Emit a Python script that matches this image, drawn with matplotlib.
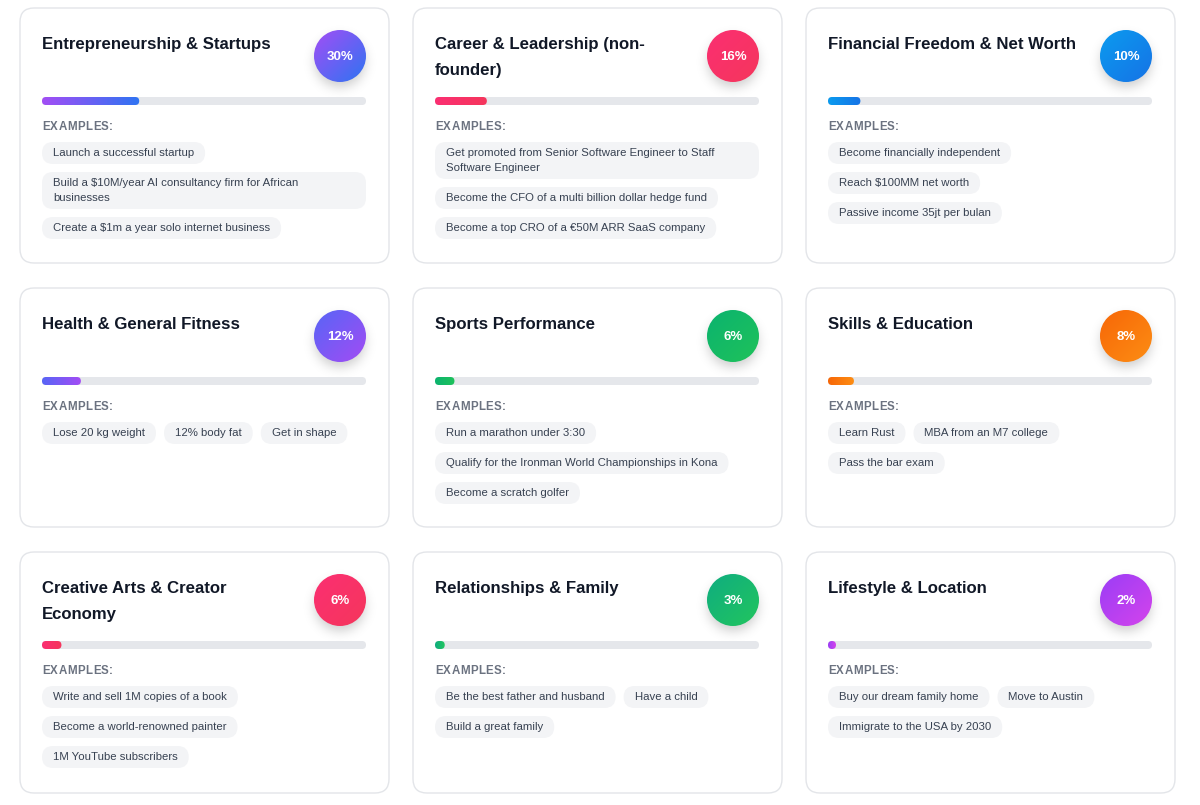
import numpy as np
import matplotlib
matplotlib.use("Agg")
import matplotlib.pyplot as plt
from matplotlib.patches import FancyBboxPatch, Circle
from matplotlib.colors import to_rgb

plt.rcParams['font.family'] = ['Liberation Sans', 'DejaVu Sans']

# --- Data ---
titles = [
    "Entrepreneurship & Startups", "Career & Leadership (non-\nfounder)", "Financial Freedom & Net Worth",
    "Health & General Fitness", "Sports Performance", "Skills & Education",
    "Creative Arts & Creator\nEconomy", "Relationships & Family", "Lifestyle & Location",
]
pcts = [30, 16, 10, 12, 6, 8, 6, 3, 2]
examples_ent = ["Launch a successful startup",
                "Build a $10M/year AI consultancy firm for African\nbusinesses",
                "Create a $1m a year solo internet business"]
examples_career = ["Get promoted from Senior Software Engineer to Staff\nSoftware Engineer",
                   "Become the CFO of a multi billion dollar hedge fund",
                   "Become a top CRO of a €50M ARR SaaS company"]
examples_fin = ["Become financially independent", "Reach $100MM net worth", "Passive income 35jt per bulan"]
examples_health = ["Lose 20 kg weight", "12% body fat", "Get in shape"]
examples_sports = ["Run a marathon under 3:30", "Qualify for the Ironman World Championships in Kona",
                   "Become a scratch golfer"]
examples_skills = ["Learn Rust", "MBA from an M7 college", "Pass the bar exam"]
examples_creative = ["Write and sell 1M copies of a book", "Become a world-renowned painter",
                     "1M YouTube subscribers"]
examples_family = ["Be the best father and husband", "Have a child", "Build a great family"]
examples_life = ["Buy our dream family home", "Move to Austin", "Immigrate to the USA by 2030"]
examples = [examples_ent, examples_career, examples_fin, examples_health, examples_sports,
            examples_skills, examples_creative, examples_family, examples_life]

# gradient pairs (start, end)
grad_start = ['#a24ef5', '#fb2f72', '#0b9bef', '#5865f6', '#0bb36f', '#f76707', '#fb2f72', '#0fad80', '#9b3df6']
grad_end = ['#2f74f2', '#f5365c', '#1673e6', '#a24cf4', '#1fc25a', '#fd8d14', '#f5365c', '#22c55e', '#d444ec']

# --- Layout (pixels) ---
W, H = 1200, 805
col_x = [20, 413, 806]
card_w = 369
row_y = [8, 288, 552]
row_h = [255, 239, 241]
PAD = 22
TRACK_W = 324

TITLE_C = '#111827'
LABEL_C = '#6b7280'
CHIP_BG = '#f3f4f6'
CHIP_TXT = '#374151'
TRACK_C = '#e5e7eb'


def gradient(ax, patch, ext, c1, c2, diag=False, z=3):
    x0, x1, y0, y1 = ext
    n = 64
    xs = np.linspace(0, 1, n)
    if diag:
        X, Y = np.meshgrid(xs, xs)
        t = (X + Y) / 2
    else:
        t = np.tile(xs, (n, 1))
    a, b = np.array(to_rgb(c1)), np.array(to_rgb(c2))
    img = a[None, None, :] * (1 - t[..., None]) + b[None, None, :] * t[..., None]
    im = ax.imshow(img, extent=(x0, x1, y1, y0), origin='upper', interpolation='bilinear',
                   zorder=z, aspect='auto')
    im.set_clip_path(patch)


def shadow(ax, cx, cy, r):
    n = 80
    ext = r + 22
    xs = np.linspace(-ext, ext, n)
    X, Y = np.meshgrid(xs, xs)
    d = np.sqrt(X ** 2 + (Y - 6) ** 2)
    alpha = 0.16 * np.exp(-np.clip(d - r + 8, 0, None) ** 2 / (2 * 7.0 ** 2))
    img = np.zeros((n, n, 4))
    img[..., 3] = alpha
    ax.imshow(img, extent=(cx - ext, cx + ext, cy + ext, cy - ext), origin='upper',
              interpolation='bilinear', zorder=2, aspect='auto')


def spaced_text(ax, x, y, s, spacing, **kw):
    # draw text one character at a time to mimic letter-spacing
    for ch in s:
        t = ax.text(x, y, ch, **kw)
        x += t.get_window_extent(renderer).width + spacing


fig = plt.figure(figsize=(12, 8.05), dpi=100)
ax = fig.add_axes([0, 0, 1, 1])
ax.set_xlim(0, W)
ax.set_ylim(H, 0)
renderer = fig.canvas.get_renderer()

for i in range(9):
    r, c = divmod(i, 3)
    x0, y0 = col_x[c], row_y[r]
    h = row_h[r]

    card = FancyBboxPatch((x0, y0), card_w, h, boxstyle="round,pad=0,rounding_size=14",
                          facecolor='white', edgecolor='#e3e5e9', linewidth=1.0, zorder=1)
    ax.add_patch(card)

    # title
    for k, line in enumerate(titles[i].split("\n")):
        ax.text(x0 + PAD, y0 + 41 + k * 26, line, fontsize=12.1, fontweight='bold',
                color=TITLE_C, va='baseline', ha='left', zorder=4)

    # percentage circle
    cx, cy, rad = x0 + card_w - 49, y0 + 48, 26
    shadow(ax, cx, cy, rad)
    circ = Circle((cx, cy), rad, facecolor='none', edgecolor='none', zorder=3)
    ax.add_patch(circ)
    gradient(ax, circ, (cx - rad, cx + rad, cy - rad, cy + rad), grad_start[i], grad_end[i], diag=True)
    ax.text(cx, cy + 0.5, f"{pcts[i]}%", fontsize=9.5, fontweight='bold', color='white',
            ha='center', va='center', zorder=5)

    # progress bar
    ty = y0 + 93
    track = FancyBboxPatch((x0 + PAD, ty - 4), TRACK_W, 8, boxstyle="round,pad=0,rounding_size=4",
                           facecolor=TRACK_C, edgecolor='none', zorder=2)
    ax.add_patch(track)
    fill_w = max(TRACK_W * pcts[i] / 100.0, 8)
    fill = FancyBboxPatch((x0 + PAD, ty - 4), fill_w, 8, boxstyle="round,pad=0,rounding_size=4",
                          facecolor='none', edgecolor='none', zorder=3)
    ax.add_patch(fill)
    gradient(ax, fill, (x0 + PAD, x0 + PAD + fill_w, ty - 4, ty + 4), grad_start[i], grad_end[i])

    # examples label
    spaced_text(ax, x0 + PAD, y0 + 119, "EXAMPLES:", 0.5, fontsize=8.3, fontweight='bold',
                color=LABEL_C, va='center', ha='left', zorder=4)

    # chips (flow layout)
    cur_x, cur_top = x0 + PAD, y0 + 134
    row_bottom = cur_top
    for ex in examples[i]:
        lines = ex.split("\n")
        ch = 22 + 15 * (len(lines) - 1)
        t = ax.text(0, 0, ex, fontsize=8.2, color=CHIP_TXT, linespacing=1.3)
        tw = t.get_window_extent(renderer).width
        t.remove()
        cw = TRACK_W if len(lines) > 1 else tw + 22
        if cur_x + cw > x0 + PAD + TRACK_W + 0.5 and cur_x > x0 + PAD:
            cur_x = x0 + PAD
            cur_top = row_bottom + 8
        chip = FancyBboxPatch((cur_x, cur_top), cw, ch, boxstyle="round,pad=0,rounding_size=11",
                              facecolor=CHIP_BG, edgecolor='none', zorder=2)
        ax.add_patch(chip)
        for k, line in enumerate(lines):
            ax.text(cur_x + 11, cur_top + 11 + k * 15, line, fontsize=8.2, color=CHIP_TXT,
                    ha='left', va='center', zorder=4)
        row_bottom = max(row_bottom, cur_top + ch) if cur_x > x0 + PAD else cur_top + ch
        cur_x += cw + 8

ax.set_xlim(0, W)
ax.set_ylim(H, 0)
ax.axis('off')
fig.savefig("out.png", dpi=100, facecolor='white')
